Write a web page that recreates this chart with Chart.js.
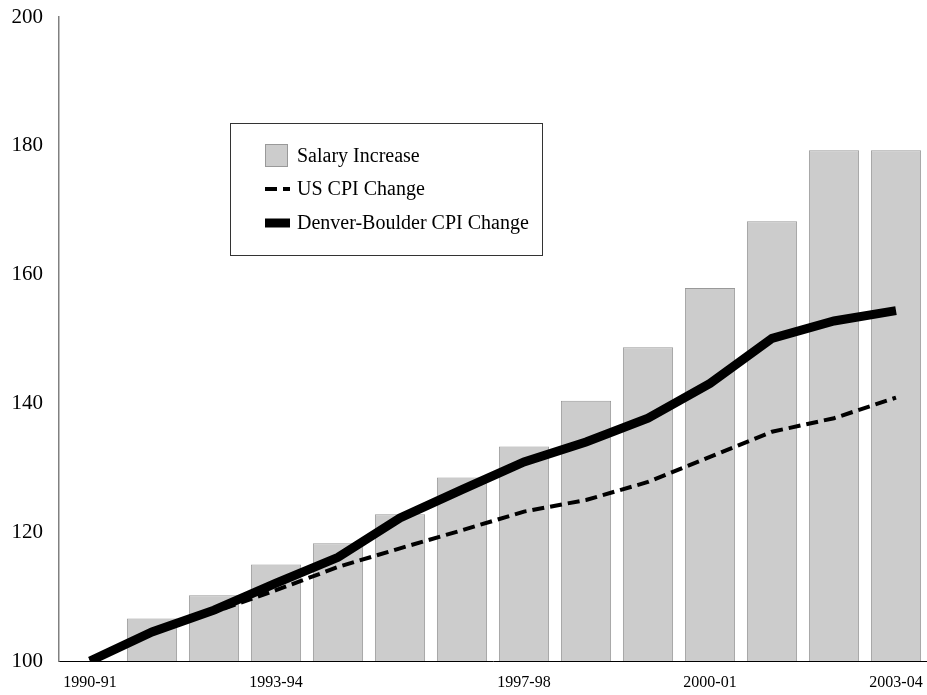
<!DOCTYPE html>
<html>
<head>
<meta charset="utf-8">
<script src="https://cdn.jsdelivr.net/npm/chart.js@4/dist/chart.umd.min.js"></script>
<style>
  html, body { margin: 0; padding: 0; background: #fff; }
  #wrap { width: 927px; height: 695px; position: relative; }
</style>
</head>
<body>
<div id="wrap"><canvas id="myChart"></canvas></div>
<script>
"use strict";

// school years on the x axis
const years = ['1990-91', '1991-92', '1992-93', '1993-94', '1994-95', '1995-96', '1996-97',
    '1997-98', '1998-99', '1999-00', '2000-01', '2001-02', '2002-03', '2003-04'];
// only these years get a label under the axis
const shownYears = ['1990-91', '1993-94', '1997-98', '2000-01', '2003-04'];

// index values, 1990-91 = 100
const salaryIncrease = [100, 106.6, 110.2, 115.0, 118.3, 122.8, 128.5, 133.3, 140.4, 148.7, 157.9, 168.3, 179.3, 179.3];
const usCpi = [100, 104.3, 107.6, 111.0, 114.6, 117.5, 120.3, 123.2, 125.0, 127.8, 131.7, 135.6, 137.7, 140.9];
const denverCpi = [100, 104.5, 107.9, 112.1, 116.1, 122.2, 126.6, 130.9, 134.0, 137.7, 143.1, 150.1, 152.8, 154.4];

const yTicks = [100, 120, 140, 160, 180, 200];

const serif = "'Liberation Serif', 'Times New Roman', serif";

// boxed legend drawn inside the plot
const boxLegend = {
    id: 'boxLegend',
    afterDraw(chart) {
        const ctx = chart.ctx;
        const x = 230, y = 123, w = 312, h = 132;
        ctx.save();
        ctx.fillStyle = '#fff';
        ctx.fillRect(x, y, w, h);
        ctx.strokeStyle = '#333';
        ctx.lineWidth = 1;
        ctx.strokeRect(x + 0.5, y + 0.5, w, h);

        const rows = [156, 189, 223];
        const ds = chart.data.datasets;
        ctx.font = '20px ' + serif;
        ctx.fillStyle = '#000';
        ctx.textBaseline = 'middle';
        ds.forEach(function (d, i) {
            const cy = rows[i];
            if (d.type === 'bar') {
                ctx.fillStyle = d.backgroundColor;
                ctx.fillRect(265, cy - 12, 23, 23);
                ctx.strokeStyle = d.borderColor;
                ctx.strokeRect(265.5, cy - 11.5, 22, 22);
            } else {
                ctx.beginPath();
                ctx.setLineDash(d.borderDash || []);
                ctx.lineWidth = d.borderWidth;
                ctx.strokeStyle = d.borderColor;
                ctx.moveTo(265, cy);
                ctx.lineTo(290, cy);
                ctx.stroke();
                ctx.setLineDash([]);
            }
            ctx.fillStyle = '#000';
            ctx.fillText(d.label, 297, cy + 1);
        });
        ctx.restore();
    }
};

let ctx = document.getElementById('myChart').getContext('2d');

let chart = new Chart(ctx, {
    data: {
        labels: years,
        datasets: [
            {
                type: 'bar',
                label: 'Salary Increase',
                data: salaryIncrease,
                backgroundColor: '#cccccc',
                borderColor: '#999999',
                borderWidth: 1,
                borderSkipped: 'bottom',
                categoryPercentage: 1,
                barPercentage: 0.81,
                order: 3
            },
            {
                type: 'line',
                label: 'US CPI Change',
                data: usCpi,
                borderColor: '#000',
                borderWidth: 4,
                borderDash: [12, 6],
                pointRadius: 0,
                tension: 0,
                fill: false,
                order: 2
            },
            {
                type: 'line',
                label: 'Denver-Boulder CPI Change',
                data: denverCpi,
                borderColor: '#000',
                borderWidth: 9,
                pointRadius: 0,
                tension: 0,
                fill: false,
                order: 1
            }
        ]
    },
    options: {
        responsive: true,
        maintainAspectRatio: false,
        animation: false,
        layout: {
            padding: { top: 17, right: 0, bottom: 0, left: 0 }
        },
        plugins: {
            legend: { display: false },
            tooltip: { enabled: false }
        },
        scales: {
            x: {
                grid: { display: false, drawTicks: false },
                border: { display: true, color: '#000', width: 1 },
                ticks: {
                    autoSkip: false,
                    maxRotation: 0,
                    padding: 12,
                    color: '#000',
                    font: { family: serif, size: 16 },
                    callback: function (value) {
                        let label = this.getLabelForValue(value);
                        return shownYears.includes(label) ? label : '';
                    }
                },
                afterFit: function (scale) {
                    scale.height = 34;
                    scale.paddingLeft = 0;
                    scale.paddingRight = 0;
                }
            },
            y: {
                min: 100,
                max: 200,
                grid: { display: false, drawTicks: false },
                border: { display: true, color: '#808080', width: 1.5 },
                afterBuildTicks: function (scale) {
                    scale.ticks = yTicks.map(v => ({ value: v }));
                },
                ticks: {
                    padding: 16,
                    color: '#000',
                    font: { family: serif, size: 21 }
                },
                afterFit: function (scale) {
                    scale.width = 59;
                    scale.paddingTop = 0;
                    scale.paddingBottom = 0;
                }
            }
        }
    },
    plugins: [boxLegend]
});
</script>
</body>
</html>
